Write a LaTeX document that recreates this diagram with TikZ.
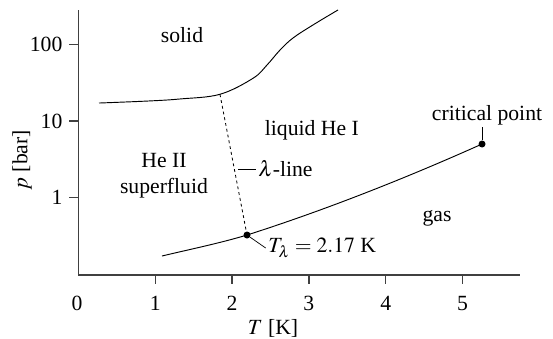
\documentclass[tikz,border=0pt]{standalone}
\usepackage{mathptmx}
\usepackage{fontspec}
\setmainfont{Liberation Serif}
\usetikzlibrary{positioning}

\begin{document}
\begin{tikzpicture}[x=2.304cm, y=2.298cm,
    font=\fontsize{18.5}{22}\selectfont,
    axis/.style={line width=1.1pt, black!75},
    curve/.style={line width=0.8pt},
    lamline/.style={line width=0.7pt, dash pattern=on 2.5pt off 2.5pt},
    dot/.style={circle, fill, inner sep=0pt, minimum size=0.21cm},
    lbl/.style={inner sep=2pt},
    leader/.style={line width=0.6pt}]
    \useasboundingbox (-1.022,-1.832) rectangle (6.178,2.581);

    % axes
    \draw[axis] (0,2.45) -- (0,-1.01) -- (5.75,-1.01);
    \foreach \t in {1,...,5} {
        \draw[axis] (\t,-1.01) -- ++(0,-0.27cm);
        \node (xt\t) at (\t,-1.375) {\t};
    }
    \node (xt0) at (-0.02,-1.375) {0};
    \foreach \v/\lp in {1/0,10/1,100/2} {
        \draw[axis] (0,\lp) -- ++(-0.27cm,0);
        \node[lbl, anchor=east] (yt\v) at (-0.176,\lp) {\v};
    }
    \node (xlab) at (2.533,-1.70) {$T$ [K]};
    \node[rotate=90] (ylab) at (-0.736,0.492) {$p$ [bar]};

    % points
    \coordinate (lamtop) at (1.842,1.350);
    \coordinate (lampt) at (2.194,-0.487);
    \coordinate (critpt) at (5.254,0.701);

    % melting curve
    \draw[curve] plot[smooth, tension=0.6] coordinates {(0.267,1.236) (0.9,1.262) (1.322,1.289) (lamtop) (2.272,1.559) (2.454,1.732) (2.624,1.928) (2.793,2.085) (3.053,2.255) (3.379,2.451)};

    % vapour curve
    \draw[curve] (1.087,-0.761) .. controls (1.457,-0.672) and (1.824,-0.598) .. (lampt)
        .. controls (3.194,-0.167) and (4.254,0.251) .. (critpt);

    \node[dot] (lamdot) at (lampt) {};
    \node[dot] (critdot) at (critpt) {};

    % lambda line
    \draw[lamline] (lamtop) -- (lamdot);

    % labels
    \node[lbl, anchor=west] (lamlbl) at (2.307,0.375) {$\lambda$-line};
    \coordinate (lamlead) at (2.077,0.375);
    \draw[leader] (lamlead) -- (lamlbl.west);

    \node[lbl, anchor=west] (tlbl) at (2.4375,-0.657) {$T_\lambda = 2.17$ K};
    \draw[leader] (lamdot) -- (tlbl.west);

    \node[lbl] (critlbl) at (5.319,1.080) {critical point};
    \draw[leader] (critdot) -- (critdot |- critlbl.south);

    % regions
    \node (solid) at (1.348,2.124) {solid};
    \node (liqHe) at (3.038,0.884) {liquid He I};
    \node[align=center] (heII) at (1.113,0.29) {He II\\superfluid};
    \node (gas) at (4.668,-0.265) {gas};
\end{tikzpicture}
\end{document}
